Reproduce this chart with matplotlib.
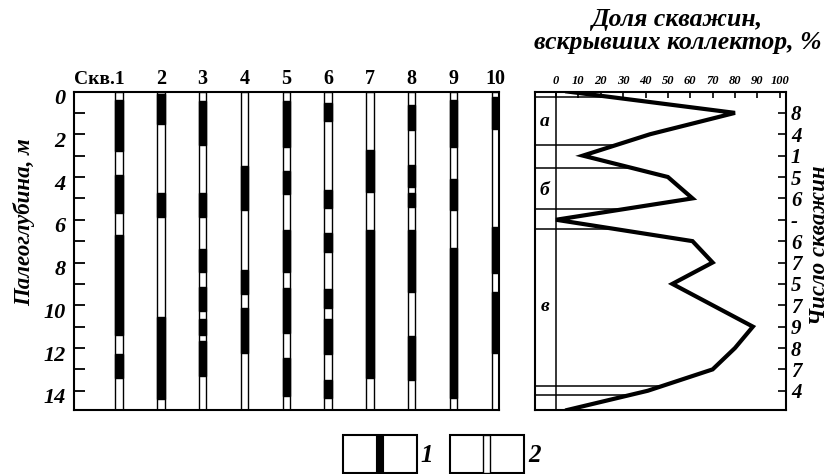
import numpy as np
import matplotlib.pyplot as plt
import matplotlib.transforms as mtransforms
from matplotlib.patches import Rectangle

plt.rcParams['font.family'] = ['Liberation Serif', 'DejaVu Serif']

# collector intervals (black), paleodepth in m, per well
well_names = ['Скв.1', '2', '3', '4', '5', '6', '7', '8', '9', '10']
w1 = [(0.4, 2.8), (3.9, 5.7), (6.7, 11.4), (12.3, 13.4)]
w2 = [(0.1, 1.5), (4.75, 5.85), (10.55, 14.4)]
w3 = [(0.45, 2.5), (4.75, 5.85), (7.35, 8.45), (9.15, 10.25), (10.65, 11.4), (11.65, 13.3)]
w4 = [(3.5, 5.55), (8.35, 9.45), (10.15, 12.25)]
w5 = [(0.45, 2.6), (3.7, 4.8), (6.5, 8.45), (9.2, 11.3), (12.45, 14.25)]
w6 = [(0.55, 1.4), (4.6, 5.45), (6.6, 7.5), (9.25, 10.15), (10.65, 12.3), (13.5, 14.35)]
w7 = [(2.75, 4.7), (6.5, 13.4)]
w8 = [(0.65, 1.8), (3.45, 4.45), (4.75, 5.4), (6.5, 9.4), (11.45, 13.5)]
w9 = [(0.4, 2.6), (4.1, 5.55), (7.3, 14.35)]
w10 = [(0.28, 1.75), (6.35, 8.5), (9.4, 12.25)]
wells = [w1, w2, w3, w4, w5, w6, w7, w8, w9, w10]
max_depth = 14.9

# share of wells with collector, %
share_depth = [0, 1, 2, 3, 4, 5, 6, 7, 8, 9, 10, 11, 12, 13, 14, 14.9]
share_pct = [5, 80, 42, 12, 50, 61, 0, 61, 70, 52, 70, 88, 80, 70, 41, 5]
count_depth = list(range(1, 15))
count_labels = ['8', '4', '1', '5', '6', '-', '6', '7', '5', '7', '9', '8', '7', '4']

# interval boundaries and names
bound_depth = [0.28, 2.48, 3.6, 5.5, 6.45, 13.8, 14.19]
zone_names = ['а', 'б', 'в']
zone_depth = [1.42, 4.62, 10.06]

bi = dict(fontweight='bold', fontstyle='italic')

fig = plt.figure(figsize=(8.32, 4.74), dpi=100)
ax = fig.add_axes([74 / 832, 1 - 410 / 474, 425 / 832, 318.5 / 474])
ax2 = fig.add_axes([535 / 832, 1 - 410 / 474, 251 / 832, 318.5 / 474])

# --- left panel: well columns
hw = 0.0875
for i, w in enumerate(wells, start=1):
    ax.add_patch(Rectangle((i - hw, 0), 2 * hw, max_depth, fc='white', ec='black', lw=1.0))
    for top, bot in w:
        ax.add_patch(Rectangle((i - hw, top), 2 * hw, bot - top, fc='black', ec='black', lw=1.0))

ax.set_xlim(-0.08, 10 + hw)
ax.set_ylim(max_depth, 0)
ax.set_xticks([])
ax.set_yticks(range(0, 15))
ax.set_yticklabels([str(d) if d % 2 == 0 else '' for d in range(0, 15)], fontsize=16, **bi)
ax.tick_params(axis='y', direction='in', length=8, width=1.3, pad=6)
shift = mtransforms.ScaledTranslation(0, -0.05, fig.dpi_scale_trans)
for lbl in ax.get_yticklabels():
    lbl.set_transform(lbl.get_transform() + shift)
for sp in ax.spines.values():
    sp.set_linewidth(1.5)

hdr = mtransforms.blended_transform_factory(ax.transData, ax.transAxes)
for i, name in enumerate(well_names, start=1):
    if i == 1:
        ax.text(i + 0.13, 1.038, name, transform=hdr, ha='right', va='center',
                fontsize=14, fontweight='bold')
    else:
        ax.text(i, 1.038, name, transform=hdr, ha='center', va='center',
                fontsize=14.5, fontweight='bold')

fig.text(24 / 832, 1 - 222 / 474, 'Палеоглубина, м', rotation=90,
         ha='center', va='center', fontsize=16.5, **bi)

# --- right panel: share of wells
xl = -9.4
ax2.set_xlim(xl, 102.8)
ax2.set_ylim(max_depth, 0)
ax2.axvline(0, color='black', lw=1.1)
for d in bound_depth:
    ax2.plot([xl, np.interp(d, share_depth, share_pct)], [d, d], color='black', lw=1.1)
ax2.plot(share_pct, share_depth, color='black', lw=3, solid_joinstyle='miter')
for name, d in zip(zone_names, zone_depth):
    ax2.text(xl / 2 - 0.3, d, name, ha='center', va='center', fontsize=14, **bi)

ax2.xaxis.tick_top()
ax2.set_xticks(range(0, 101, 10))
ax2.set_xticklabels([str(v) for v in range(0, 101, 10)], fontsize=9, **bi)
ax2.tick_params(axis='x', direction='in', length=4, width=1.2, pad=3)
ax2.yaxis.tick_right()
ax2.set_yticks(count_depth)
ax2.set_yticklabels(count_labels, fontsize=15, **bi)
ax2.tick_params(axis='y', direction='in', length=5.5, width=1.2, pad=3.5)
for sp in ax2.spines.values():
    sp.set_linewidth(1.5)

fig.text(678 / 832, 1 - 31 / 474, 'Доля скважин,\nвскрывших коллектор, %',
         ha='center', va='center', fontsize=18.5, linespacing=1.0, **bi)
fig.text(819.5 / 832, 1 - 245 / 474, 'Число скважин', rotation=90,
         ha='center', va='center', fontsize=16.5, **bi)

# --- legend
lax = fig.add_axes([0, 0, 1, 1], zorder=-1)
lax.set_xlim(0, 832)
lax.set_ylim(474, 0)
lax.axis('off')
lax.add_patch(Rectangle((343, 435), 74, 37.5, fc='white', ec='black', lw=1.5))
lax.add_patch(Rectangle((376, 435), 7, 37.5, fc='black', ec='black', lw=0.8))
lax.add_patch(Rectangle((450, 435), 74, 37.5, fc='white', ec='black', lw=1.5))
lax.add_patch(Rectangle((483, 435), 7, 37.5, fc='white', ec='black', lw=1.0))
lax.text(427, 455, '1', ha='center', va='center', fontsize=18, **bi)
lax.text(535, 455, '2', ha='center', va='center', fontsize=18, **bi)

fig.savefig('out.png', dpi=100)
